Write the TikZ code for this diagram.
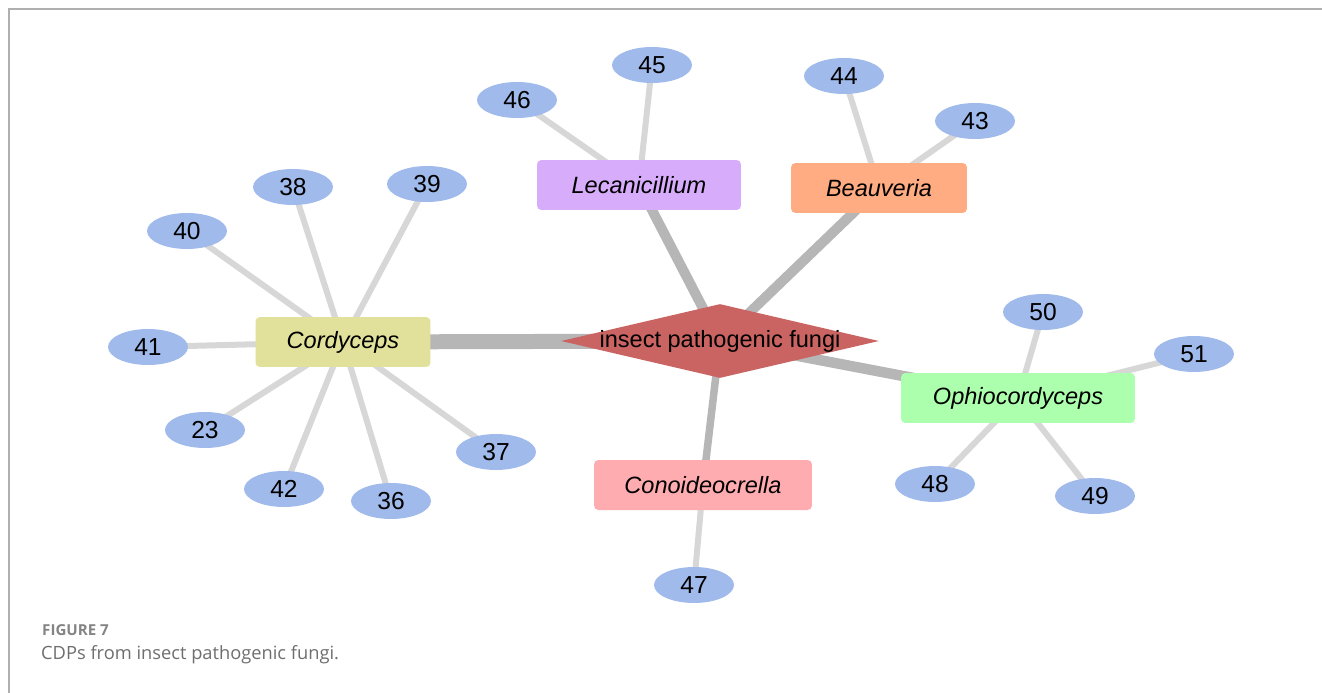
\documentclass[tikz,border=0pt]{standalone}
\usepackage{fontspec}
\setmainfont{Liberation Sans}
\newfontfamily\capfont{Open Sans}
\usepackage{xcolor}
\usetikzlibrary{shapes.geometric,backgrounds}

\definecolor{hubred}{RGB}{201,100,98}
\definecolor{cordfill}{RGB}{225,225,155}
\definecolor{lecfill}{RGB}{215,172,250}
\definecolor{beaufill}{RGB}{255,172,130}
\definecolor{ophiofill}{RGB}{172,255,172}
\definecolor{conofill}{RGB}{255,172,176}
\definecolor{leafblue}{RGB}{160,186,235}
\definecolor{edgelight}{RGB}{215,215,215}
\definecolor{edgedark}{RGB}{182,182,182}
\definecolor{framegray}{RGB}{175,175,175}
\definecolor{capgray}{RGB}{110,110,110}

\begin{document}
\begin{tikzpicture}[
    x=0.02cm, y=-0.02cm,
    every node/.style={font=\fontsize{13.4}{15}\selectfont},
    leaf/.style={ellipse, fill=leafblue, minimum width=1.6cm, minimum height=0.72cm, inner sep=0pt,
        font=\fontsize{14}{16}\selectfont},
    genus/.style={rectangle, rounded corners=2.5pt, fill=#1, minimum height=1cm,
        font=\fontsize{13.4}{15}\selectfont\itshape},
    twig/.style={draw=edgelight, line width=0.12cm},
    trunk/.style={draw=edgedark, line width=#1}
]
\useasboundingbox (0,0) rectangle (1322,693);
\draw[framegray, line width=1.2pt] (9,693) -- (9,9) -- (1322,9);

% centre and genera
\node (hub) [diamond, fill=hubred, minimum width=6.36cm, minimum height=1.48cm, inner sep=0pt,
    label=center:{insect pathogenic fungi}] at (720,341) {};
\node (cord)  [genus=cordfill,  minimum width=3.5cm]  at (343,342)  {Cordyceps};
\node (lec)   [genus=lecfill,   minimum width=4.08cm] at (639,185)  {Lecanicillium};
\node (beau)  [genus=beaufill,  minimum width=3.52cm] at (879,188)  {Beauveria};
\node (ophio) [genus=ophiofill, minimum width=4.68cm] at (1018,398) {Ophiocordyceps};
\node (cono)  [genus=conofill,  minimum width=4.36cm] at (703,485)  {Conoideocrella};

% compounds
\node (n45) [leaf] at (652,65)  {45};
\node (n46) [leaf] at (517,100) {46};
\node (n44) [leaf] at (844,76)  {44};
\node (n43) [leaf] at (975,121) {43};
\node (n38) [leaf] at (293,187) {38};
\node (n39) [leaf] at (427,184) {39};
\node (n40) [leaf] at (187,231) {40};
\node (n41) [leaf] at (148,347) {41};
\node (n23) [leaf] at (205,430) {23};
\node (n42) [leaf] at (284,489) {42};
\node (n36) [leaf] at (391,501) {36};
\node (n37) [leaf] at (496,452) {37};
\node (n50) [leaf] at (1043,312) {50};
\node (n51) [leaf] at (1194,354) {51};
\node (n48) [leaf] at (935,484)  {48};
\node (n49) [leaf] at (1095,496) {49};
\node (n47) [leaf] at (694,585)  {47};

\begin{scope}[on background layer]
\draw[trunk=0.3cm]  (hub.center) -- (cord.center);
\draw[trunk=0.2cm]  (hub.center) -- (lec.center);
\draw[trunk=0.2cm]  (hub.center) -- (beau.center);
\draw[trunk=0.21cm] (hub.center) -- (ophio.center);
\draw[trunk=0.15cm] (hub.center) -- (cono.center);
\draw[twig] (cord.center) -- (n38.center);
\draw[twig] (cord.center) -- (n39.center);
\draw[twig] (cord.center) -- (n40.center);
\draw[twig] (cord.center) -- (n41.center);
\draw[twig] (cord.center) -- (n23.center);
\draw[twig] (cord.center) -- (n42.center);
\draw[twig] (cord.center) -- (n36.center);
\draw[twig] (cord.center) -- (n37.center);
\draw[twig] (lec.center) -- (n45.center);
\draw[twig] (lec.center) -- (n46.center);
\draw[twig] (beau.center) -- (n44.center);
\draw[twig] (beau.center) -- (n43.center);
\draw[twig] (ophio.center) -- (n50.center);
\draw[twig] (ophio.center) -- (n51.center);
\draw[twig] (ophio.center) -- (n48.center);
\draw[twig] (ophio.center) -- (n49.center);
\draw[twig] (cono.center) -- (n47.center);
\end{scope}

% caption
\node (fig) [anchor=west, text=capgray!85, font=\capfont\bfseries\fontsize{8.6}{10}\selectfont] at (36,630) {FIGURE 7};
\node (cap) [anchor=west, text=capgray, font=\capfont\fontsize{10.4}{12}\selectfont] at (35,655) {CDPs from insect pathogenic fungi.};
\end{tikzpicture}
\end{document}
